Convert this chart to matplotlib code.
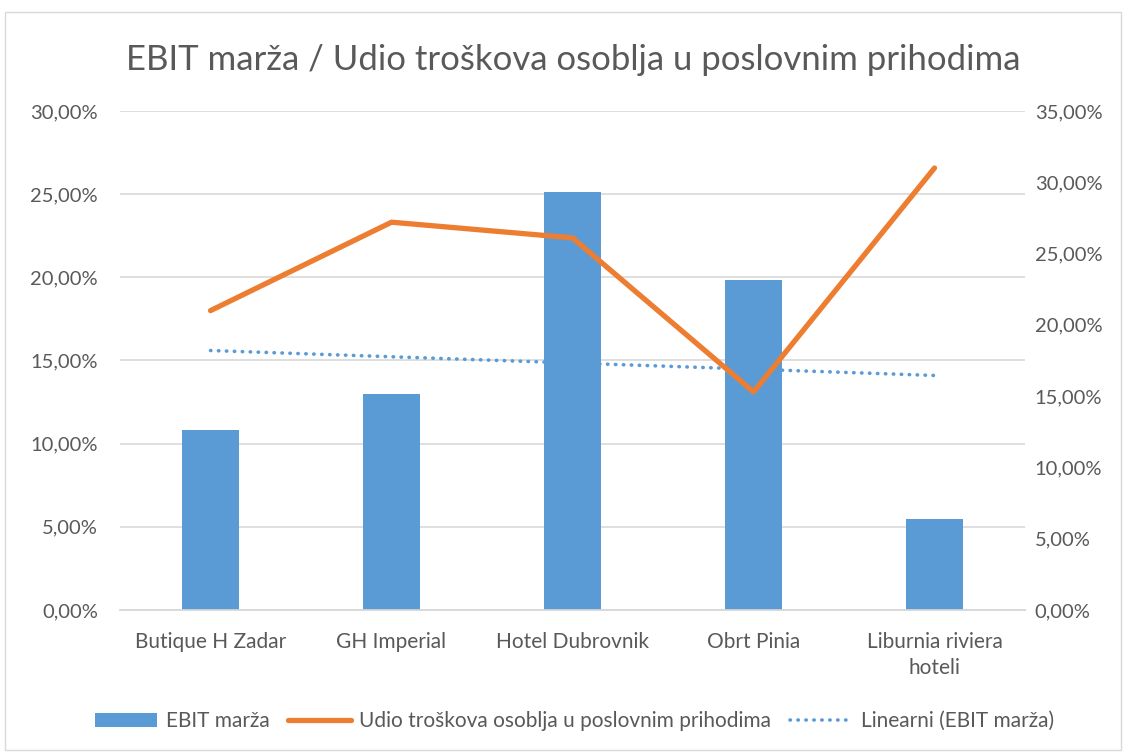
"""EBIT margin vs. staff cost share chart."""

import matplotlib

matplotlib.use("Agg")
import matplotlib.pyplot as plt
import numpy as np
from matplotlib.patches import Rectangle
from matplotlib.ticker import FuncFormatter, MultipleLocator

CATEGORIES = ["Butique H Zadar", "GH Imperial", "Hotel Dubrovnik", "Obrt Pinia", "Liburnia riviera\nhoteli"]
EBIT_MARGIN = [10.8, 13.0, 25.1, 19.85, 5.5]
STAFF_COST_SHARE = [21.0, 27.2, 26.1, 15.3, 31.0]

TITLE = "EBIT marža / Udio troškova osoblja u poslovnim prihodima"
LEGEND_LABELS = ["EBIT marža", "Udio troškova osoblja u poslovnim prihodima", "Linearni (EBIT marža)"]

BLUE = "#5b9bd5"
ORANGE = "#ed7d31"
TEXT = "#595959"
GRID = "#d9d9d9"

plt.rcParams["font.family"] = ["Lato", "DejaVu Sans"]


def pct(value, _pos):
    return f"{value:.2f}%".replace(".", ",")


fig = plt.figure(figsize=(11.26, 7.56), dpi=100)
fig.patches.append(Rectangle((0.004, 0.008), 0.992, 0.976, transform=fig.transFigure,
                             fill=False, edgecolor=GRID, linewidth=1))
ax = fig.add_axes([0.1066, 0.1931, 0.8037, 0.6601])
ax2 = ax.twinx()

x = np.arange(len(CATEGORIES))
bars = ax.bar(x, EBIT_MARGIN, width=0.315, color=BLUE, zorder=3)

slope, intercept = np.polyfit(x, EBIT_MARGIN, 1)
trend = slope * x + intercept
trend_line, = ax.plot(x, trend, color=BLUE, linestyle=(0, (0.1, 2.1)), linewidth=2.6,
                      dash_capstyle="round", zorder=2)

ax.set_zorder(1)
ax2.set_zorder(2)
ax.patch.set_visible(False)
(line,) = ax2.plot(x, STAFF_COST_SHARE, color=ORANGE, linewidth=3.8, solid_capstyle="round",
                   solid_joinstyle="round")

ax.set_xlim(-0.5, len(CATEGORIES) - 0.5)
ax.set_ylim(0, 30)
ax2.set_ylim(0, 35)
ax.yaxis.set_major_locator(MultipleLocator(5))
ax2.yaxis.set_major_locator(MultipleLocator(5))
ax.yaxis.set_major_formatter(FuncFormatter(pct))
ax2.yaxis.set_major_formatter(FuncFormatter(pct))
ax.grid(axis="y", color=GRID, linewidth=1.2, zorder=0)
ax.set_axisbelow(True)

for a in (ax, ax2):
    for side in ("top", "left", "right"):
        a.spines[side].set_visible(False)
    a.spines["bottom"].set_color(GRID)
    a.spines["bottom"].set_linewidth(1.2)
    a.tick_params(axis="both", length=0, labelsize=14.5, colors=TEXT)

ax.tick_params(axis="y", pad=16)
ax2.tick_params(axis="y", pad=7)
ax.tick_params(axis="x", pad=16, labelsize=15)

ax.set_xticks(x)
ax.set_xticklabels(CATEGORIES, linespacing=1.35)

fig.suptitle(TITLE, x=0.509, y=0.942, fontsize=25, color=TEXT)

fig.legend([bars, line, trend_line], LEGEND_LABELS, loc="center", bbox_to_anchor=(0.51, 0.046),
           ncol=3, frameon=False, fontsize=15, labelcolor=TEXT, handlelength=3.0,
           columnspacing=0.9, handletextpad=0.4)

fig.savefig("out.png", dpi=100)
